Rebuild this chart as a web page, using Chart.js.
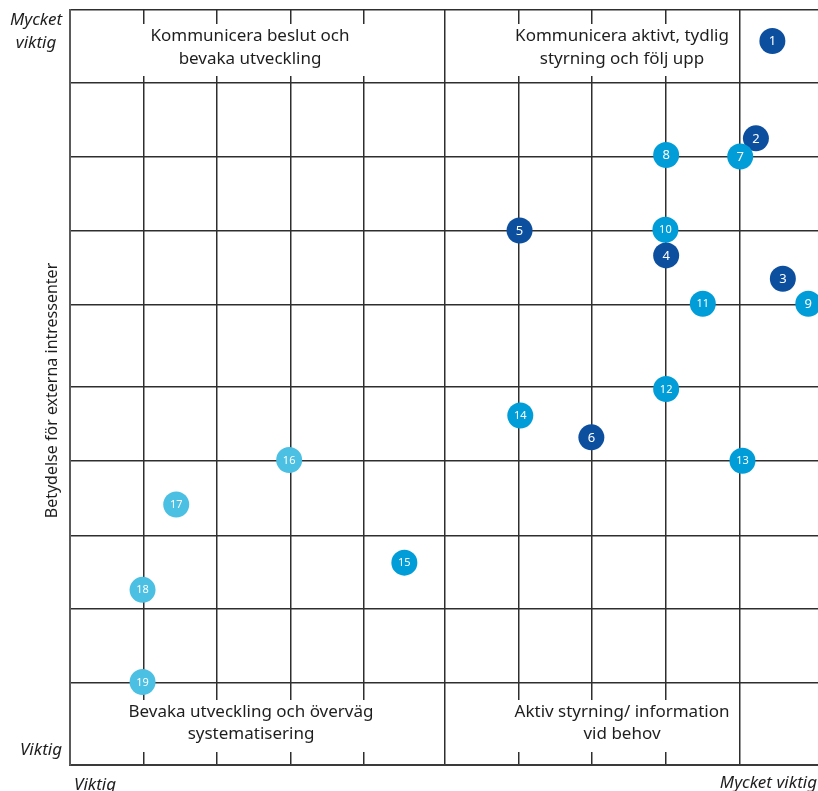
<!DOCTYPE html>
<html>
<head>
<meta charset="utf-8">
<script src="https://cdn.jsdelivr.net/npm/chart.js@4.4.0/dist/chart.umd.min.js"></script>
<style>
  html, body { margin: 0; padding: 0; background: #fff; }
  #wrap { width: 818px; height: 791px; }
</style>
</head>
<body>
<div id="wrap"><canvas id="matrix" width="818" height="791"></canvas></div>
<script>
// point numbers and their scores (x = importance, y = importance for external stakeholders)
const pointIds = [1, 2, 3, 4, 5, 6, 7, 8, 9, 10, 11, 12, 13, 14, 15, 16, 17, 18, 19];
const xValues = [9.39, 9.17, 9.53, 7.97, 6.01, 6.97, 8.96, 7.97, 9.87, 7.96, 8.46, 7.97, 8.99, 6.02, 4.47, 2.93, 1.42, 0.97, 0.97];
const yValues = [9.59, 8.30, 6.44, 6.75, 7.08, 4.34, 8.06, 8.08, 6.11, 7.09, 6.11, 4.98, 4.03, 4.63, 2.68, 4.04, 3.45, 2.32, 1.10];
const groups = ['dark', 'dark', 'dark', 'dark', 'dark', 'dark',
  'mid', 'mid', 'mid', 'mid', 'mid', 'mid', 'mid', 'mid', 'mid',
  'light', 'light', 'light', 'light'];

// grid line positions on the 0-10 scales
const xGrid = [0.98, 1.96, 2.95, 3.93, 5.01, 6.00, 6.97, 7.97, 8.96];
const yGrid = [1.09, 2.07, 3.04, 4.03, 5.01, 6.10, 7.08, 8.06, 9.03, 10];

const quadrantText = [
  ['Kommunicera beslut och', 'bevaka utveckling'],
  ['Kommunicera aktivt, tydlig', 'styrning och följ upp'],
  ['Bevaka utveckling och överväg', 'systematisering'],
  ['Aktiv styrning/ information', 'vid behov']
];
const axisLow = 'Viktig';
const axisHigh = 'Mycket viktig';
const yTitle = 'Betydelse för externa intressenter';

const groupColors = { dark: '#0d4f9f', mid: '#009dd9', light: '#4bc0e3' };
const FONT = "'Noto Sans', 'Open Sans', sans-serif";
const lineColor = '#2e2e2e';

const pointData = xValues.map((x, i) => ({ x: x, y: yValues[i] }));

const numberLabels = {
  id: 'numberLabels',
  afterDatasetsDraw(chart) {
    const ctx = chart.ctx;
    const meta = chart.getDatasetMeta(0);
    ctx.save();
    ctx.fillStyle = '#fff';
    ctx.textAlign = 'center';
    ctx.textBaseline = 'middle';
    meta.data.forEach((pt, i) => {
      const txt = String(pointIds[i]);
      ctx.font = (txt.length > 1 ? '11px ' : '13px ') + FONT;
      ctx.fillText(txt, pt.x, pt.y + 0.5);
    });
    ctx.restore();
  }
};

const quadrantLabels = {
  id: 'quadrantLabels',
  beforeDatasetsDraw(chart) {
    const ctx = chart.ctx;
    const a = chart.chartArea;
    const boxes = [
      { cx: a.left + 180, top: a.top + 14, w: 240, lines: [a.top + 26, a.top + 49] },
      { cx: a.left + 552, top: a.top + 14, w: 226, lines: [a.top + 26, a.top + 49] },
      { cx: a.left + 181, top: a.bottom - 65, w: 256, lines: [a.bottom - 53, a.bottom - 31] },
      { cx: a.left + 552, top: a.bottom - 65, w: 230, lines: [a.bottom - 53, a.bottom - 31] }
    ];
    ctx.save();
    boxes.forEach((b, i) => {
      ctx.fillStyle = '#fff';
      ctx.fillRect(b.cx - b.w / 2, b.top, b.w, 52);
      ctx.fillStyle = '#1e1e1e';
      ctx.font = '17px ' + FONT;
      ctx.textAlign = 'center';
      ctx.textBaseline = 'middle';
      quadrantText[i].forEach((t, j) => ctx.fillText(t, b.cx, b.lines[j]));
    });
    ctx.restore();
  }
};

const axisLabels = {
  id: 'axisLabels',
  afterDraw(chart) {
    const ctx = chart.ctx;
    const a = chart.chartArea;
    ctx.save();
    ctx.fillStyle = '#1e1e1e';
    ctx.font = 'italic 17px ' + FONT;
    ctx.textBaseline = 'middle';
    ctx.textAlign = 'center';
    const hi = axisHigh.split(' ');
    ctx.fillText(hi[0], 36, a.top + 10);
    ctx.fillText(hi[1], 36, a.top + 33);
    ctx.textAlign = 'right';
    ctx.fillText(axisLow, a.left - 8, a.bottom - 15);
    ctx.textBaseline = 'alphabetic';
    ctx.textAlign = 'left';
    ctx.fillText(axisLow, a.left + 4, a.bottom + 25);
    ctx.textAlign = 'right';
    ctx.fillText(axisHigh, a.right - 1, a.bottom + 23);

    ctx.font = '16px ' + FONT;
    ctx.textAlign = 'center';
    ctx.textBaseline = 'middle';
    ctx.translate(52, (a.top + a.bottom) / 2 + 3);
    ctx.rotate(-Math.PI / 2);
    ctx.fillText(yTitle, 0, 0);
    ctx.restore();
  }
};

new Chart(document.getElementById('matrix').getContext('2d'), {
  type: 'scatter',
  data: {
    datasets: [{
      label: 'Intressenter',
      data: pointData,
      backgroundColor: groups.map(g => groupColors[g]),
      borderWidth: 0,
      pointRadius: 13,
      pointHoverRadius: 13,
      clip: false
    }]
  },
  options: {
    responsive: false,
    animation: false,
    layout: { autoPadding: false, padding: { left: 70, top: 10, right: 0, bottom: 26 } },
    plugins: {
      legend: { display: false },
      tooltip: { enabled: false }
    },
    scales: {
      x: {
        type: 'linear',
        min: 0,
        max: 10,
        afterBuildTicks: function (scale) {
          scale.ticks = xGrid.map(v => ({ value: v }));
        },
        ticks: { display: false },
        grid: { color: lineColor, lineWidth: 1.5, drawTicks: false },
        border: { display: true, color: '#3a3a3a', width: 2 }
      },
      y: {
        type: 'linear',
        min: 0,
        max: 10,
        afterBuildTicks: function (scale) {
          scale.ticks = yGrid.map(v => ({ value: v }));
        },
        ticks: { display: false },
        grid: { color: lineColor, lineWidth: 1.5, drawTicks: false },
        border: { display: true, color: '#5a5a5a', width: 2 }
      }
    }
  },
  plugins: [quadrantLabels, numberLabels, axisLabels]
});
</script>
</body>
</html>
